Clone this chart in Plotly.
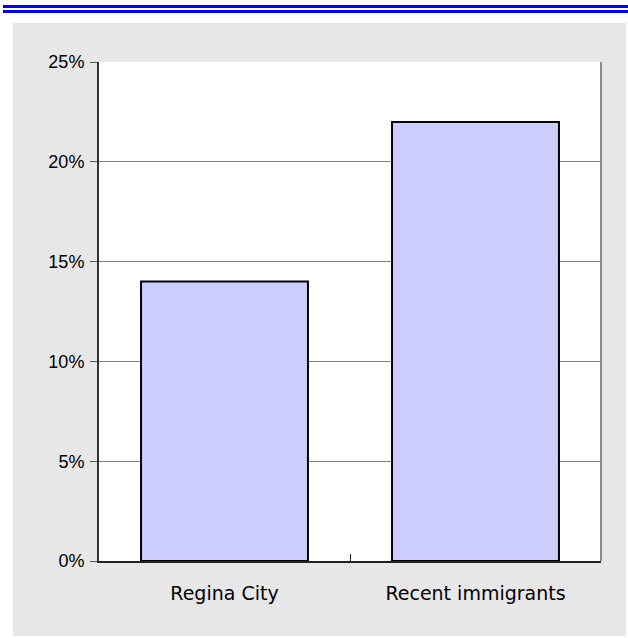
import plotly.graph_objects as go

# Share of population, by group
categories = ["Regina City", "Recent immigrants"]
shares = [0.14, 0.22]
title_text = "Regina City"

W, H = 628, 638
L, R, T, B = 99, 27, 62, 77          # plot-area margins in pixels
PW, PH = W - L - R, H - T - B


def px_x(x):
    return (x - L) / PW


def px_y(y):
    return (H - B - y) / PH


fig = go.Figure(
    go.Bar(
        x=categories,
        y=shares,
        marker=dict(color="#CCCCFF", line=dict(color="#000000", width=2)),
        hoverinfo="x+y",
    )
)

shapes = [
    # grey panel behind the chart
    dict(type="rect", xref="paper", yref="paper", layer="below",
         x0=px_x(13), x1=px_x(626), y0=px_y(636), y1=px_y(23),
         fillcolor="#E7E7E7", line=dict(width=0)),
    # white plotting area
    dict(type="rect", xref="paper", yref="paper", layer="below",
         x0=0, x1=1, y0=0, y1=1, fillcolor="#FFFFFF", line=dict(width=0)),
    # right border of the plotting area
    dict(type="line", xref="paper", yref="paper",
         x0=1, x1=1, y0=0, y1=1, line=dict(color="#8C8C8C", width=2)),
    # double blue rule under the heading
    dict(type="rect", xref="paper", yref="paper",
         x0=px_x(3), x1=px_x(629), y0=px_y(8), y1=px_y(5),
         fillcolor="#0000FF", line=dict(width=0)),
    dict(type="rect", xref="paper", yref="paper",
         x0=px_x(3), x1=px_x(629), y0=px_y(13), y1=px_y(10),
         fillcolor="#0000FF", line=dict(width=0)),
]

fig.update_layout(
    width=W, height=H,
    margin=dict(l=L, r=R, t=T, b=B, pad=0),
    paper_bgcolor="#FFFFFF",
    plot_bgcolor="rgba(0,0,0,0)",
    bargap=0.335,
    showlegend=False,
    shapes=shapes,
    font=dict(family="Liberation Sans, Arial, sans-serif", color="#000000"),
    annotations=[
        # heading, mostly above the top edge of the page
        dict(text="<b>" + title_text + "</b>", xref="paper", yref="paper",
             x=px_x(291), y=px_y(2), xanchor="center", yanchor="bottom",
             showarrow=False, font=dict(size=24, color="#000000")),
    ],
)

fig.update_yaxes(
    range=[0, 0.25], dtick=0.05, tickformat=".0%",
    showgrid=True, gridcolor="#808080", gridwidth=1,
    zeroline=False,
    showline=True, linecolor="#333333", linewidth=2,
    ticks="outside", ticklen=7, tickcolor="#555555", tickwidth=1,
    tickfont=dict(size=18, family="Liberation Sans, Arial, sans-serif"),
    ticklabelstandoff=2,
)

fig.update_xaxes(
    showgrid=False, zeroline=False,
    showline=True, linecolor="#222222", linewidth=2,
    ticks="inside", tickson="boundaries", ticklen=7, tickcolor="#222222", tickwidth=1,
    tickfont=dict(size=19, family="DejaVu Sans, sans-serif"),
    ticklabelstandoff=14,
)

fig.write_html("out.html")
